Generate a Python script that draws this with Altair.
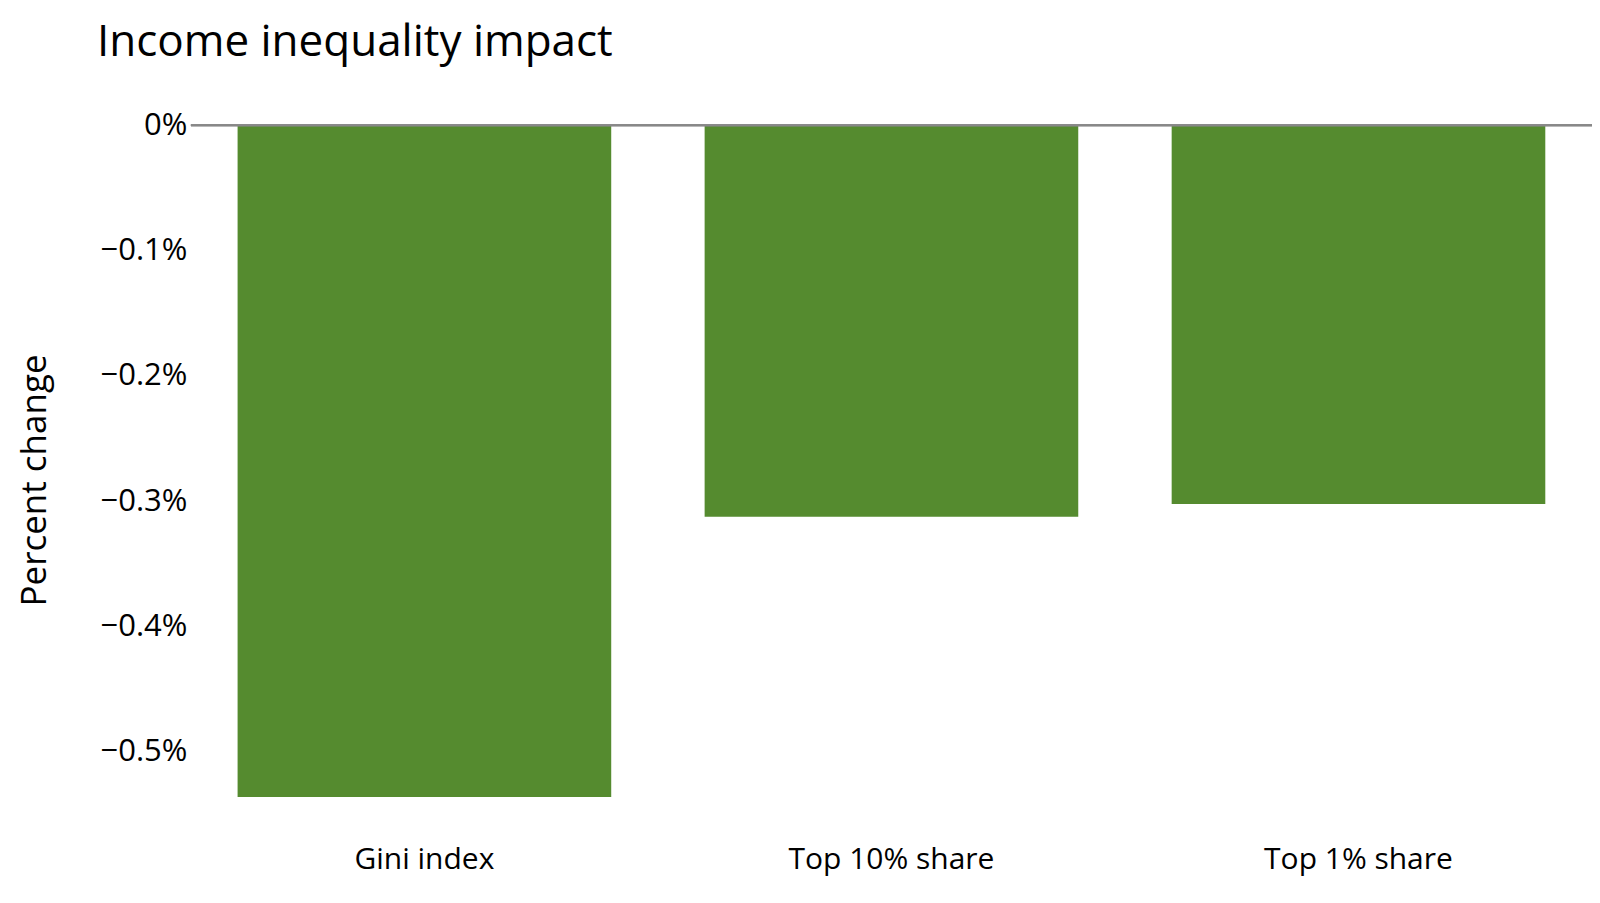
import altair as alt
import pandas as pd

categories = ["Gini index", "Top 10% share", "Top 1% share"]
values = [-0.005361, -0.003124, -0.003022]

df = pd.DataFrame({"metric": categories, "change": values})

FONT = "Open Sans"
GREEN = "#558B2F"

base = alt.Chart(df)

bars = base.mark_bar(color=GREEN).encode(
    x=alt.X(
        "metric:N",
        sort=categories,
        title=None,
        scale=alt.Scale(paddingInner=0.2, paddingOuter=0.1),
        axis=alt.Axis(
            labelAngle=0,
            domain=False,
            ticks=False,
            labelFontSize=30,
            labelFont=FONT,
            labelColor="#000000",
            labelPadding=10,
            labelLimit=0,
        ),
    ),
    y=alt.Y(
        "change:Q",
        title="Percent change",
        scale=alt.Scale(domain=[-0.005662, 0], nice=False, zero=True),
        axis=alt.Axis(
            format=".1~%",
            values=[0, -0.001, -0.002, -0.003, -0.004, -0.005],
            domain=False,
            ticks=False,
            grid=False,
            labelFontSize=31,
            labelFont=FONT,
            labelColor="#000000",
            labelPadding=4,
            titleFontSize=35,
            titleFont=FONT,
            titleFontWeight="normal",
            titleColor="#000000",
            titlePadding=48,
        ),
    ),
)

zero_line = base.mark_rule(color="#888888", strokeWidth=2).encode(
    y=alt.datum(0)
)

chart = (
    alt.layer(bars, zero_line)
    .properties(
        width=1402,
        height=710,
        autosize=alt.AutoSizeParams(type="none"),
        padding={"left": 183, "top": 117, "right": 0, "bottom": 50},
        title=alt.TitleParams(
            "Income inequality impact",
            anchor="start",
            frame="group",
            font=FONT,
            fontSize=44,
            fontWeight="normal",
            color="#000000",
            dx=-94,
            offset=44,
        ),
    )
    .configure_view(stroke=None)
)

chart.save("out.html", embed_options={"renderer": "svg", "actions": False})
